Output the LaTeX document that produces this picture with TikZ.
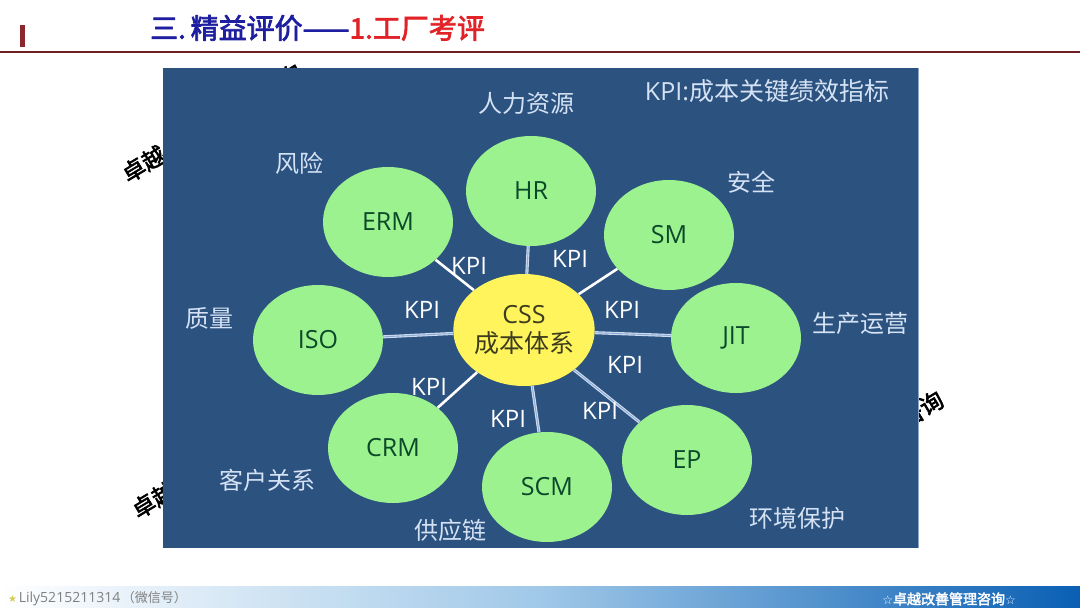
\documentclass[tikz,border=0pt]{standalone}
\usepackage{fontspec}
\setmainfont{Open Sans}
\newfontfamily\cjk{Noto Sans CJK SC}[AutoFakeBold=2.5]
\newfontfamily\dv{DejaVu Sans}
\usetikzlibrary{shapes.geometric}
\definecolor{panelblue}{RGB}{44,82,128}
\definecolor{bubblegreen}{RGB}{155,242,143}
\definecolor{bubbletext}{RGB}{12,72,42}
\definecolor{coreyellow}{RGB}{255,244,92}
\definecolor{coretext}{RGB}{60,60,30}
\definecolor{lbltext}{RGB}{212,226,244}
\definecolor{titleblue}{RGB}{30,30,160}
\definecolor{titlered}{RGB}{225,35,40}
\definecolor{barred}{RGB}{140,40,45}
\definecolor{footblue}{RGB}{10,95,180}
\definecolor{footmid}{RGB}{160,200,232}
\definecolor{linkpale}{RGB}{205,220,240}
\definecolor{linkmid}{RGB}{140,170,210}
\begin{document}
\begin{tikzpicture}[x=1pt,y=-1pt,
  bubble/.style={ellipse, fill=bubblegreen, minimum width=130pt, minimum height=110pt, inner sep=0pt, text=bubbletext, font=\fontsize{25}{28}\selectfont},
  core/.style={ellipse, fill=coreyellow, minimum width=130pt, minimum height=112pt, inner sep=0pt, text=coretext, align=center, font=\fontsize{25}{33}\selectfont},
  lbl/.style={text=lbltext, font=\cjk\fontsize{24}{28}\selectfont, inner sep=0pt},
  kpi/.style={text=white, font=\fontsize{24}{28}\selectfont, inner sep=0pt},
  link/.style={draw=white, line width=2.6pt},
  dlink/.style={draw=linkpale, line width=1.1pt, double=linkmid, double distance=0.9pt},
  wmark/.style={font=\cjk\bfseries\fontsize{23}{26}\selectfont, text=black, rotate=31, inner sep=0pt}
]
\useasboundingbox (0,0) rectangle (1080,608);
\fill[white] (0,0) rectangle (1080,608);
% header
\fill[barred] (20,25) rectangle (25,47);
\node[anchor=west, inner sep=0pt, font=\cjk\bfseries\fontsize{28}{32}\selectfont] (title) at (150,28)
  {\textcolor{titleblue}{三.\,精益评价——}\textcolor{titlered}{1.工厂考评}};
\draw[barred!80!black, line width=1.4pt] (0,52) -- (1080,52);
% watermark fragments (behind panel)
\node[wmark] (wm1a) at (143.5,164) {卓越};
\node[wmark] (wm1c) at (290,76) {询};
\node[wmark] (wm2a) at (153.5,500) {卓越};
\node[wmark] (wm3a) at (921.5,409) {咨询};
% panel
\fill[panelblue] (163,68) rectangle (918,548);
\draw[linkpale!60!panelblue, line width=0.8pt] (918,68) -- (918,548);
% nodes
\node[core] (css) at (524,330) {\raisebox{-4pt}{CSS}\\{\cjk 成本体系}};
\node[bubble] (hr)  at (531,191) {HR};
\node[bubble] (erm) at (388,222) {ERM};
\node[bubble] (sm)  at (669,235) {SM};
\node[bubble] (iso) at (318,340) {ISO};
\node[bubble] (jit) at (736,338) {JIT};
\node[bubble] (crm) at (393,448) {CRM};
\node[bubble] (scm) at (547,487) {SCM};
\node[bubble] (ep)  at (687,460) {EP};
% connectors
\draw[link] (css) -- (erm);
\draw[link] (css) -- (sm);
\draw[link] (css) -- (crm);
\draw[dlink] (css) -- (hr);
\draw[dlink] (css) -- (iso);
\draw[dlink] (css) -- (jit);
\draw[dlink] (css) -- (scm);
\draw[dlink] (css) -- (ep);
% KPI labels
\node[kpi] (k-erm) at (469,266) {KPI};
\node[kpi] (k-hr)  at (570,259) {KPI};
\node[kpi] (k-iso) at (422,310) {KPI};
\node[kpi] (k-sm)  at (622,310) {KPI};
\node[kpi] (k-jit) at (625,365) {KPI};
\node[kpi] (k-crm) at (429,387) {KPI};
\node[kpi] (k-scm) at (508,419) {KPI};
\node[kpi] (k-ep)  at (600,411) {KPI};
% outer labels
\node[lbl] (l-hr)  at (526,103) {人力资源};
\node[lbl] (l-erm) at (299,163) {风险};
\node[lbl] (l-sm)  at (751,182) {安全};
\node[lbl] (l-iso) at (209,318) {质量};
\node[lbl] (l-jit) at (860,323) {生产运营};
\node[lbl] (l-crm) at (267,480) {客户关系};
\node[lbl] (l-scm) at (450,530) {供应链};
\node[lbl] (l-ep)  at (797,518) {环境保护};
\node[text=lbltext, inner sep=0pt] (legend) at (767,91)
  {{\fontsize{25}{28}\selectfont KPI:}{\cjk\fontsize{25}{28}\selectfont 成本关键绩效指标}};
% footer
\shade[left color=white, right color=footblue, middle color=footmid] (0,586) rectangle (1080,608);
\node[anchor=west, inner sep=0pt, text=gray] (foot-l) at (8,599)
  {{\dv\fontsize{10}{11}\selectfont\textcolor{yellow!60!gray}{★}}\,{\fontsize{14}{15}\selectfont Lily5215211314}\,{\cjk\fontsize{13}{15}\selectfont（微信号）}};
\node[anchor=east, inner sep=0pt, text=white] (foot-r) at (1016,599)
  {{\dv\fontsize{12}{13}\selectfont ☆}{\cjk\bfseries\fontsize{14}{15}\selectfont 卓越改善管理咨询}{\dv\fontsize{12}{13}\selectfont ☆}};
\end{tikzpicture}
\end{document}
